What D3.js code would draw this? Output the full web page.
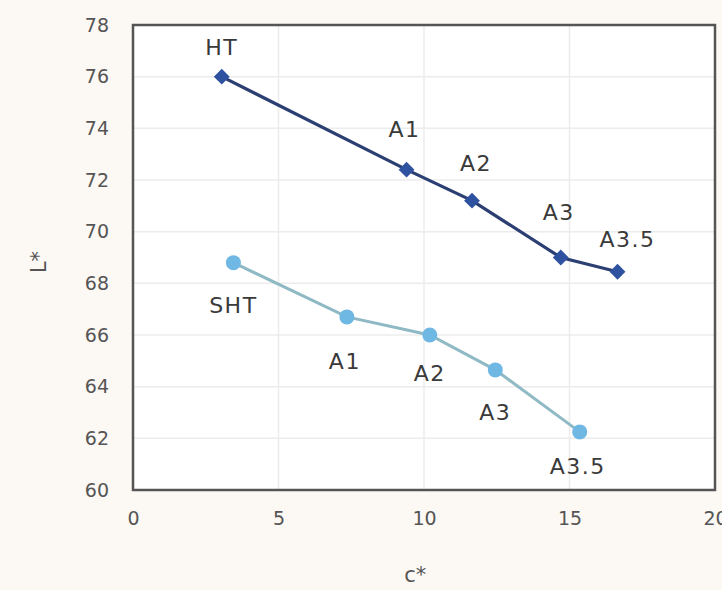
<!DOCTYPE html>
<html>
<head>
<meta charset="utf-8">
<script src="https://cdn.jsdelivr.net/npm/d3@7"></script>
<style>
  body { margin: 0; background: #fcf8f4; }
  text { font-family: "DejaVu Sans", "Liberation Sans", Arial, sans-serif; }
</style>
</head>
<body>
<script>
// values
const htLabels = ["HT", "A1", "A2", "A3", "A3.5"];
const htC = [3.05, 9.4, 11.65, 14.7, 16.65];
const htL = [76.0, 72.4, 71.2, 69.0, 68.45];

const shtLabels = ["SHT", "A1", "A2", "A3", "A3.5"];
const shtC = [3.45, 7.35, 10.2, 12.45, 15.35];
const shtL = [68.8, 66.7, 66.0, 64.65, 62.25];

const xTicks = [0, 5, 10, 15, 20];
const yTicks = [60, 62, 64, 66, 68, 70, 72, 74, 76, 78];

const W = 722, H = 590;
const margin = { top: 25, right: 7, bottom: 100, left: 133 };
const width = W - margin.left - margin.right;
const height = H - margin.top - margin.bottom;

const svg = d3.select("body").append("svg")
  .attr("width", W)
  .attr("height", H);

const g = svg.append("g")
  .attr("transform", `translate(${margin.left},${margin.top})`);

const x = d3.scaleLinear().domain([0, 20]).range([0, width]);
const y = d3.scaleLinear().domain([60, 78]).range([height, 0]);

// plot background
g.append("rect")
  .attr("width", width)
  .attr("height", height)
  .attr("fill", "#ffffff");

// grid
g.append("g")
  .selectAll("line")
  .data(yTicks.slice(1, -1))
  .join("line")
  .attr("x1", 0).attr("x2", width)
  .attr("y1", d => y(d)).attr("y2", d => y(d))
  .attr("stroke", "#ececec")
  .attr("stroke-width", 1.5);

g.append("g")
  .selectAll("line")
  .data(xTicks.slice(1, -1))
  .join("line")
  .attr("y1", 0).attr("y2", height)
  .attr("x1", d => x(d)).attr("x2", d => x(d))
  .attr("stroke", "#ececec")
  .attr("stroke-width", 1.5);

// axes (labels only, frame drawn separately)
const xAxis = g.append("g")
  .attr("transform", `translate(0,${height})`)
  .call(d3.axisBottom(x).tickValues(xTicks).tickSize(0).tickPadding(22));
const yAxis = g.append("g")
  .call(d3.axisLeft(y).tickValues(yTicks).tickSize(0).tickPadding(24));

[xAxis, yAxis].forEach(a => {
  a.select(".domain").remove();
  a.selectAll("text")
    .attr("font-size", 19)
    .attr("font-family", "DejaVu Sans, sans-serif")
    .attr("fill", "#555");
});

// frame
g.append("rect")
  .attr("width", width)
  .attr("height", height)
  .attr("fill", "none")
  .attr("stroke", "#555")
  .attr("stroke-width", 2.5);

// axis titles
svg.append("text")
  .attr("x", margin.left + x(9.7))
  .attr("y", 582)
  .attr("text-anchor", "middle")
  .attr("font-size", 21)
  .attr("fill", "#555")
  .text("c*");

svg.append("text")
  .attr("transform", `translate(46,262) rotate(-90)`)
  .attr("text-anchor", "middle")
  .attr("font-size", 21)
  .attr("fill", "#555")
  .text("L*");

const line = d3.line()
  .x(d => x(d[0]))
  .y(d => y(d[1]));

const htPts = htC.map((c, i) => [c, htL[i]]);
const shtPts = shtC.map((c, i) => [c, shtL[i]]);

// SHT series
g.append("path")
  .datum(shtPts)
  .attr("fill", "none")
  .attr("stroke", "#8fb9c4")
  .attr("stroke-width", 3)
  .attr("d", line);

g.selectAll(".sht")
  .data(shtPts)
  .join("circle")
  .attr("class", "sht")
  .attr("cx", d => x(d[0]))
  .attr("cy", d => y(d[1]))
  .attr("r", 7.5)
  .attr("fill", "#6fb8e4");

// HT series
g.append("path")
  .datum(htPts)
  .attr("fill", "none")
  .attr("stroke", "#2c3f72")
  .attr("stroke-width", 3.2)
  .attr("d", line);

g.selectAll(".ht")
  .data(htPts)
  .join("path")
  .attr("class", "ht")
  .attr("transform", d => `translate(${x(d[0])},${y(d[1])})`)
  .attr("d", d3.symbol(d3.symbolDiamond2, 160))
  .attr("fill", "#2f52a0");

// point labels
const htOff = [[0, -22], [-2, -33], [4, -30], [-2, -38], [10, -25]];
const shtOff = [[0, 50], [-2, 52], [0, 46], [0, 50], [-2, 42]];

g.selectAll(".htlab")
  .data(htPts)
  .join("text")
  .attr("class", "htlab")
  .attr("x", (d, i) => x(d[0]) + htOff[i][0])
  .attr("y", (d, i) => y(d[1]) + htOff[i][1])
  .attr("text-anchor", "middle")
  .attr("font-size", 22)
  .attr("letter-spacing", 1.5)
  .attr("fill", "#3a3a3a")
  .text((d, i) => htLabels[i]);

g.selectAll(".shtlab")
  .data(shtPts)
  .join("text")
  .attr("class", "shtlab")
  .attr("x", (d, i) => x(d[0]) + shtOff[i][0])
  .attr("y", (d, i) => y(d[1]) + shtOff[i][1])
  .attr("text-anchor", "middle")
  .attr("font-size", 22)
  .attr("letter-spacing", 1.5)
  .attr("fill", "#3a3a3a")
  .text((d, i) => shtLabels[i]);
</script>
</body>
</html>
